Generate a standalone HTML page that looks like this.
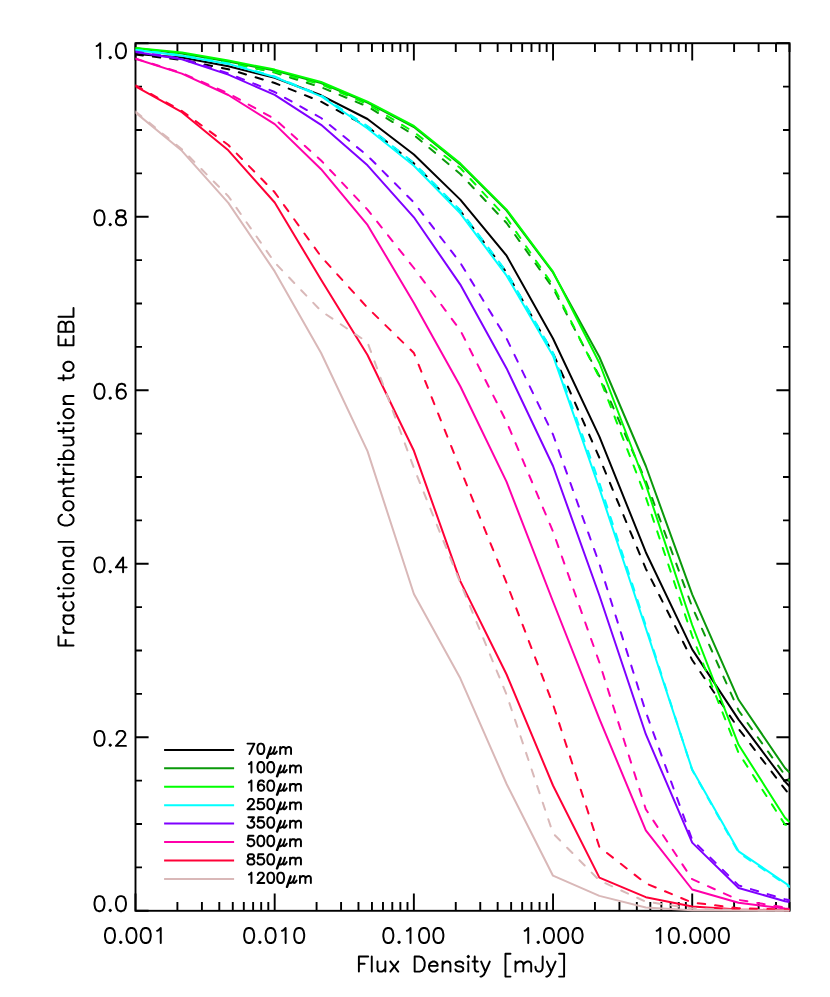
<!DOCTYPE html>
<html><head><meta charset="utf-8"><title>Fractional Contribution to EBL</title>
<style>html,body{margin:0;padding:0;background:#fff}svg{display:block}text{font-family:"Liberation Sans",sans-serif;fill:#000}</style></head><body>
<svg width="830" height="997" viewBox="0 0 830 997">
<rect width="830" height="997" fill="#fff"/>
<g fill="none" stroke="#000" stroke-width="1.90" stroke-linecap="butt">
<rect x="135.50" y="43.20" width="654.00" height="867.60"/>
<path d="M135.50,910.80v-17.40M135.50,43.20v17.40M177.40,910.80v-8.70M177.40,43.20v8.70M201.91,910.80v-8.70M201.91,43.20v8.70M219.29,910.80v-8.70M219.29,43.20v8.70M232.78,910.80v-8.70M232.78,43.20v8.70M243.80,910.80v-8.70M243.80,43.20v8.70M253.12,910.80v-8.70M253.12,43.20v8.70M261.19,910.80v-8.70M261.19,43.20v8.70M268.31,910.80v-8.70M268.31,43.20v8.70M274.68,910.80v-17.40M274.68,43.20v17.40M316.58,910.80v-8.70M316.58,43.20v8.70M341.08,910.80v-8.70M341.08,43.20v8.70M358.47,910.80v-8.70M358.47,43.20v8.70M371.96,910.80v-8.70M371.96,43.20v8.70M382.98,910.80v-8.70M382.98,43.20v8.70M392.30,910.80v-8.70M392.30,43.20v8.70M400.37,910.80v-8.70M400.37,43.20v8.70M407.49,910.80v-8.70M407.49,43.20v8.70M413.86,910.80v-17.40M413.86,43.20v17.40M455.76,910.80v-8.70M455.76,43.20v8.70M480.26,910.80v-8.70M480.26,43.20v8.70M497.65,910.80v-8.70M497.65,43.20v8.70M511.14,910.80v-8.70M511.14,43.20v8.70M522.16,910.80v-8.70M522.16,43.20v8.70M531.48,910.80v-8.70M531.48,43.20v8.70M539.55,910.80v-8.70M539.55,43.20v8.70M546.67,910.80v-8.70M546.67,43.20v8.70M553.04,910.80v-17.40M553.04,43.20v17.40M594.94,910.80v-8.70M594.94,43.20v8.70M619.44,910.80v-8.70M619.44,43.20v8.70M636.83,910.80v-8.70M636.83,43.20v8.70M650.32,910.80v-8.70M650.32,43.20v8.70M661.34,910.80v-8.70M661.34,43.20v8.70M670.66,910.80v-8.70M670.66,43.20v8.70M678.73,910.80v-8.70M678.73,43.20v8.70M685.85,910.80v-8.70M685.85,43.20v8.70M692.22,910.80v-17.40M692.22,43.20v17.40M734.11,910.80v-8.70M734.11,43.20v8.70M758.62,910.80v-8.70M758.62,43.20v8.70M776.01,910.80v-8.70M776.01,43.20v8.70M789.50,910.80v-8.70M789.50,43.20v8.70M135.50,910.80h13.10M789.50,910.80h-13.10M135.50,867.42h6.50M789.50,867.42h-6.50M135.50,824.04h6.50M789.50,824.04h-6.50M135.50,780.66h6.50M789.50,780.66h-6.50M135.50,737.28h13.10M789.50,737.28h-13.10M135.50,693.90h6.50M789.50,693.90h-6.50M135.50,650.52h6.50M789.50,650.52h-6.50M135.50,607.14h6.50M789.50,607.14h-6.50M135.50,563.76h13.10M789.50,563.76h-13.10M135.50,520.38h6.50M789.50,520.38h-6.50M135.50,477.00h6.50M789.50,477.00h-6.50M135.50,433.62h6.50M789.50,433.62h-6.50M135.50,390.24h13.10M789.50,390.24h-13.10M135.50,346.86h6.50M789.50,346.86h-6.50M135.50,303.48h6.50M789.50,303.48h-6.50M135.50,260.10h6.50M789.50,260.10h-6.50M135.50,216.72h13.10M789.50,216.72h-13.10M135.50,173.34h6.50M789.50,173.34h-6.50M135.50,129.96h6.50M789.50,129.96h-6.50M135.50,86.58h6.50M789.50,86.58h-6.50M135.50,43.20h13.10M789.50,43.20h-13.10"/>
</g>
<defs><clipPath id="pc"><rect x="135.50" y="0" width="654.30" height="997"/></clipPath></defs>
<g fill="none" stroke-width="2" stroke-linejoin="round" clip-path="url(#pc)">
<path stroke="#000" d="M784.2,780.6L790,779.3"/>
<polyline stroke="#000000" stroke-linecap="butt" points="135.5,54.0 181.9,57.5 228.3,66.3 274.7,77.8 321.1,95.3 367.5,119.0 413.9,154.5 460.3,199.6 506.6,255.7 553.0,338.5 599.4,436.6 645.8,552.2 692.2,649.4 738.6,719.6 785.0,781.6 789.5,786.2"/>
<polyline stroke="#000000" stroke-linecap="round" stroke-dasharray="7.5 10" points="135.5,54.5 181.9,60.0 228.3,69.2 274.7,83.0 321.1,101.7 367.5,126.6 413.9,163.4 460.3,210.8 506.6,272.5 553.0,353.2 599.4,457.8 645.8,568.6 692.2,660.0 738.6,728.8 785.0,789.2 789.5,795.0"/>
<polyline stroke="#0a990a" stroke-linecap="butt" points="135.5,48.2 181.9,53.5 228.3,61.5 274.7,70.6 321.1,83.0 367.5,102.7 413.9,127.0 460.3,164.4 506.6,210.6 553.0,272.5 599.4,357.0 645.8,466.0 692.2,594.3 738.6,699.8 785.0,768.0 789.5,772.5"/>
<polyline stroke="#0a990a" stroke-linecap="round" stroke-dasharray="7.5 10" points="135.5,48.5 181.9,53.5 228.3,62.3 274.7,72.6 321.1,87.2 367.5,106.5 413.9,135.0 460.3,174.0 506.6,223.0 553.0,288.0 599.4,376.3 645.8,481.0 692.2,607.0 738.6,710.5 785.0,775.3 789.5,780.5"/>
<polyline stroke="#00ff00" stroke-linecap="butt" points="135.5,48.0 181.9,52.5 228.3,60.5 274.7,69.6 321.1,82.0 367.5,101.7 413.9,126.0 460.3,163.4 506.6,209.6 553.0,271.7 599.4,363.0 645.8,484.5 692.2,625.0 738.6,744.8 785.0,817.7 789.5,821.9"/>
<polyline stroke="#00ff00" stroke-linecap="round" stroke-dasharray="7.5 10" points="135.5,48.3 181.9,54.9 228.3,62.9 274.7,72.0 321.1,84.4 367.5,104.1 413.9,132.0 460.3,168.0 506.6,218.0 553.0,285.5 599.4,377.5 645.8,497.2 692.2,636.0 738.6,753.0 785.0,824.6 789.5,826.0"/>
<polyline stroke="#00ffff" stroke-linecap="butt" points="135.5,49.9 181.9,55.7 228.3,63.9 274.7,77.0 321.1,96.3 367.5,128.5 413.9,165.8 460.3,213.3 506.6,275.7 553.0,355.7 599.4,488.5 645.8,628.2 692.2,769.6 738.6,851.3 785.0,882.8 789.5,886.0"/>
<polyline stroke="#00ffff" stroke-linecap="round" stroke-dasharray="7.5 10" points="135.5,49.9 181.9,55.4 228.3,63.5 274.7,76.5 321.1,95.5 367.5,126.2 413.9,163.0 460.3,210.3 506.6,272.0 553.0,352.7 599.4,483.0 645.8,625.7 692.2,770.1 738.6,852.6 785.0,884.0 789.5,887.0"/>
<polyline stroke="#7f00ff" stroke-linecap="butt" points="135.5,52.0 181.9,59.3 228.3,74.6 274.7,94.9 321.1,124.8 367.5,165.3 413.9,217.3 460.3,284.6 506.6,368.4 553.0,466.0 599.4,595.5 645.8,734.2 692.2,842.6 738.6,888.0 785.0,901.2 789.5,901.9"/>
<polyline stroke="#7f00ff" stroke-linecap="round" stroke-dasharray="7.5 10" points="135.5,51.5 181.9,58.6 228.3,73.3 274.7,92.0 321.1,118.0 367.5,155.7 413.9,202.5 460.3,262.8 506.6,338.6 553.0,434.5 599.4,563.9 645.8,712.0 692.2,839.8 738.6,885.4 785.0,899.3 789.5,900.2"/>
<polyline stroke="#ff00aa" stroke-linecap="butt" points="135.5,58.8 181.9,73.6 228.3,95.0 274.7,124.1 321.1,169.2 367.5,224.9 413.9,303.0 460.3,386.2 506.6,481.9 553.0,601.5 599.4,718.8 645.8,830.4 692.2,889.5 738.6,902.8 785.0,908.5 789.5,908.7"/>
<polyline stroke="#ff00aa" stroke-linecap="round" stroke-dasharray="7.5 10" points="135.5,58.6 181.9,73.1 228.3,93.3 274.7,119.0 321.1,160.5 367.5,209.6 413.9,268.0 460.3,330.3 506.6,422.0 553.0,531.5 599.4,662.5 645.8,809.2 692.2,879.2 738.6,899.9 785.0,907.5 789.5,907.7"/>
<polyline stroke="#ff0037" stroke-linecap="butt" points="135.5,86.3 181.9,112.2 228.3,150.3 274.7,202.5 321.1,279.8 367.5,355.0 413.9,450.8 460.3,581.1 506.6,674.5 553.0,785.5 599.4,877.6 645.8,897.2 692.2,906.5 738.6,909.4 785.0,910.3 789.5,910.4"/>
<polyline stroke="#ff0037" stroke-linecap="round" stroke-dasharray="7.5 10" points="135.5,85.5 181.9,111.0 228.3,145.0 274.7,192.3 321.1,256.6 367.5,307.7 413.9,353.0 460.3,469.0 506.6,583.0 553.0,704.3 599.4,847.0 645.8,883.4 692.2,902.5 738.6,908.2 785.0,909.6 789.5,909.7"/>
<polyline stroke="#d9b8b8" stroke-linecap="butt" points="135.5,112.6 181.9,150.8 228.3,202.9 274.7,271.4 321.1,353.0 367.5,451.1 413.9,594.0 460.3,678.3 506.6,784.0 553.0,875.7 599.4,895.9 645.8,907.5 692.2,910.2 738.6,910.6 785.0,910.8 789.5,910.8"/>
<polyline stroke="#d9b8b8" stroke-linecap="round" stroke-dasharray="7.5 10" points="135.5,111.6 181.9,149.3 228.3,196.2 274.7,262.5 321.1,311.0 367.5,342.4 413.9,468.0 460.3,582.7 506.6,694.7 553.0,833.3 599.4,880.5 645.8,901.7 692.2,908.4 738.6,910.0 785.0,910.5 789.5,910.5"/>
</g>
<g fill="none" stroke-width="2">
<path stroke="#000000" d="M164.1,749.90H234.1"/>
<path stroke="#0a990a" d="M164.1,768.33H234.1"/>
<path stroke="#00ff00" d="M164.1,786.76H234.1"/>
<path stroke="#00ffff" d="M164.1,805.19H234.1"/>
<path stroke="#7f00ff" d="M164.1,823.62H234.1"/>
<path stroke="#ff00aa" d="M164.1,842.05H234.1"/>
<path stroke="#ff0037" d="M164.1,860.48H234.1"/>
<path stroke="#d9b8b8" d="M164.1,878.91H234.1"/>
</g>
<path fill="none" stroke="#000" stroke-width="1.95" stroke-linecap="round" stroke-linejoin="round" d="M104.97,936.57L105.69,940.14L107.12,942.28L109.26,943L110.69,943L112.84,942.28L114.27,940.14L114.98,936.57L114.98,934.42L114.27,930.85L112.84,928.7L110.69,927.99L109.26,927.99L107.12,928.7L105.69,930.85L104.97,934.42L104.97,936.57M119.98,942.28L120.7,941.57L121.42,942.28L120.7,943L119.98,942.28M126.42,936.57L127.14,940.14L128.56,942.28L130.71,943L132.14,943L134.28,942.28L135.72,940.14L136.43,936.57L136.43,934.42L135.72,930.85L134.28,928.7L132.14,927.99L130.71,927.99L128.56,928.7L127.14,930.85L126.42,934.42L126.42,936.57M140.72,936.57L141.44,940.14L142.87,942.28L145.01,943L146.44,943L148.59,942.28L150.01,940.14L150.73,936.57L150.73,934.42L150.01,930.85L148.59,928.7L146.44,927.99L145.01,927.99L142.87,928.7L141.44,930.85L140.72,934.42L140.72,936.57M157.16,930.85L158.59,930.13L160.74,927.99L160.74,943M244.15,936.57L244.86,940.14L246.29,942.28L248.44,943L249.87,943L252.01,942.28L253.44,940.14L254.16,936.57L254.16,934.42L253.44,930.85L252.01,928.7L249.87,927.99L248.44,927.99L246.29,928.7L244.86,930.85L244.15,934.42L244.15,936.57M259.16,942.28L259.88,941.57L260.59,942.28L259.88,943L259.16,942.28M265.6,936.57L266.31,940.14L267.74,942.28L269.89,943L271.32,943L273.46,942.28L274.89,940.14L275.61,936.57L275.61,934.42L274.89,930.85L273.46,928.7L271.32,927.99L269.89,927.99L267.74,928.7L266.31,930.85L265.6,934.42L265.6,936.57M282.04,930.85L283.47,930.13L285.62,927.99L285.62,943M294.2,936.57L294.91,940.14L296.34,942.28L298.49,943L299.92,943L302.06,942.28L303.49,940.14L304.21,936.57L304.21,934.42L303.49,930.85L302.06,928.7L299.92,927.99L298.49,927.99L296.34,928.7L294.91,930.85L294.2,934.42L294.2,936.57M383.33,936.57L384.04,940.14L385.47,942.28L387.62,943L389.05,943L391.19,942.28L392.62,940.14L393.34,936.57L393.34,934.42L392.62,930.85L391.19,928.7L389.05,927.99L387.62,927.99L385.47,928.7L384.04,930.85L383.33,934.42L383.33,936.57M398.34,942.28L399.06,941.57L399.77,942.28L399.06,943L398.34,942.28M406.92,930.85L408.35,930.13L410.5,927.99L410.5,943M419.08,936.57L419.79,940.14L421.22,942.28L423.37,943L424.8,943L426.94,942.28L428.37,940.14L429.09,936.57L429.09,934.42L428.37,930.85L426.94,928.7L424.8,927.99L423.37,927.99L421.22,928.7L419.79,930.85L419.08,934.42L419.08,936.57M433.38,936.57L434.09,940.14L435.52,942.28L437.67,943L439.1,943L441.24,942.28L442.67,940.14L443.39,936.57L443.39,934.42L442.67,930.85L441.24,928.7L439.1,927.99L437.67,927.99L435.52,928.7L434.09,930.85L433.38,934.42L433.38,936.57M524.65,930.85L526.08,930.13L528.23,927.99L528.23,943M537.52,942.28L538.24,941.57L538.95,942.28L538.24,943L537.52,942.28M543.96,936.57L544.67,940.14L546.1,942.28L548.25,943L549.68,943L551.82,942.28L553.25,940.14L553.97,936.57L553.97,934.42L553.25,930.85L551.82,928.7L549.68,927.99L548.25,927.99L546.1,928.7L544.67,930.85L543.96,934.42L543.96,936.57M558.26,936.57L558.97,940.14L560.4,942.28L562.55,943L563.98,943L566.12,942.28L567.55,940.14L568.27,936.57L568.27,934.42L567.55,930.85L566.12,928.7L563.98,927.99L562.55,927.99L560.4,928.7L558.97,930.85L558.26,934.42L558.26,936.57M572.56,936.57L573.27,940.14L574.7,942.28L576.85,943L578.28,943L580.42,942.28L581.85,940.14L582.57,936.57L582.57,934.42L581.85,930.85L580.42,928.7L578.28,927.99L576.85,927.99L574.7,928.7L573.27,930.85L572.56,934.42L572.56,936.57M656.68,930.85L658.11,930.13L660.26,927.99L660.26,943M668.84,936.57L669.55,940.14L670.98,942.28L673.13,943L674.56,943L676.7,942.28L678.13,940.14L678.85,936.57L678.85,934.42L678.13,930.85L676.7,928.7L674.56,927.99L673.13,927.99L670.98,928.7L669.55,930.85L668.84,934.42L668.84,936.57M683.85,942.28L684.57,941.57L685.28,942.28L684.57,943L683.85,942.28M690.29,936.57L691,940.14L692.43,942.28L694.58,943L696.01,943L698.15,942.28L699.58,940.14L700.3,936.57L700.3,934.42L699.58,930.85L698.15,928.7L696.01,927.99L694.58,927.99L692.43,928.7L691,930.85L690.29,934.42L690.29,936.57M704.59,936.57L705.3,940.14L706.73,942.28L708.88,943L710.31,943L712.45,942.28L713.88,940.14L714.6,936.57L714.6,934.42L713.88,930.85L712.45,928.7L710.31,927.99L708.88,927.99L706.73,928.7L705.3,930.85L704.59,934.42L704.59,936.57M718.89,936.57L719.6,940.14L721.03,942.28L723.18,943L724.61,943L726.75,942.28L728.18,940.14L728.9,936.57L728.9,934.42L728.18,930.85L726.75,928.7L724.61,927.99L723.18,927.99L721.03,928.7L719.6,930.85L718.89,934.42L718.89,936.57M94.49,904.72L95.21,908.29L96.64,910.43L98.78,911.15L100.21,911.15L102.36,910.43L103.79,908.29L104.5,904.72L104.5,902.57L103.79,899L102.36,896.85L100.21,896.13L98.78,896.13L96.64,896.85L95.21,899L94.49,902.57L94.49,904.72M109.51,910.43L110.22,909.72L110.94,910.43L110.22,911.15L109.51,910.43M115.94,904.72L116.66,908.29L118.09,910.43L120.23,911.15L121.66,911.15L123.81,910.43L125.24,908.29L125.95,904.72L125.95,902.57L125.24,899L123.81,896.85L121.66,896.13L120.23,896.13L118.09,896.85L116.66,899L115.94,902.57L115.94,904.72M94.49,739.45L95.21,743.02L96.64,745.16L98.78,745.88L100.21,745.88L102.36,745.16L103.79,743.02L104.5,739.45L104.5,737.3L103.79,733.73L102.36,731.58L100.21,730.87L98.78,730.87L96.64,731.58L95.21,733.73L94.49,737.3L94.49,739.45M109.51,745.16L110.22,744.45L110.94,745.16L110.22,745.88L109.51,745.16M116.66,734.44L116.66,733.73L117.38,732.29L118.09,731.58L119.52,730.87L122.38,730.87L123.81,731.58L124.52,732.29L125.24,733.73L125.24,735.15L124.52,736.59L123.09,738.73L115.94,745.88L125.95,745.88M94.49,565.93L95.21,569.5L96.64,571.64L98.78,572.36L100.21,572.36L102.36,571.64L103.79,569.5L104.5,565.93L104.5,563.78L103.79,560.21L102.36,558.06L100.21,557.35L98.78,557.35L96.64,558.06L95.21,560.21L94.49,563.78L94.49,565.93M109.51,571.64L110.22,570.93L110.94,571.64L110.22,572.36L109.51,571.64M123.09,572.36L123.09,557.35L115.94,567.36L126.67,567.36M94.49,392.41L95.21,395.98L96.64,398.13L98.78,398.84L100.21,398.84L102.36,398.13L103.79,395.98L104.5,392.41L104.5,390.26L103.79,386.69L102.36,384.54L100.21,383.83L98.78,383.83L96.64,384.54L95.21,386.69L94.49,390.26L94.49,392.41M109.51,398.13L110.22,397.41L110.94,398.13L110.22,398.84L109.51,398.13M116.66,393.84L116.66,390.26L117.38,386.69L118.8,384.54L120.95,383.83L122.38,383.83L124.52,384.54L125.24,385.97M116.66,393.84L117.38,396.7L118.8,398.13L120.95,398.84L121.66,398.84L123.81,398.13L125.24,396.7L125.95,394.55L125.95,393.84L125.24,391.69L123.81,390.26L121.66,389.55L120.95,389.55L118.8,390.26L117.38,391.69L116.66,393.84M94.49,218.89L95.21,222.46L96.64,224.61L98.78,225.32L100.21,225.32L102.36,224.61L103.79,222.46L104.5,218.89L104.5,216.74L103.79,213.17L102.36,211.02L100.21,210.31L98.78,210.31L96.64,211.02L95.21,213.17L94.49,216.74L94.49,218.89M109.51,224.61L110.22,223.89L110.94,224.61L110.22,225.32L109.51,224.61M115.94,222.46L115.94,220.32L116.66,218.89L118.09,217.46L120.23,216.74L123.09,216.03L124.52,215.31L125.24,213.88L125.24,212.45L124.52,211.02L122.38,210.31L119.52,210.31L117.38,211.02L116.66,212.45L116.66,213.88L117.38,215.31L118.8,216.03L121.66,216.74L123.81,217.46L125.24,218.89L125.95,220.32L125.95,222.46L125.24,223.89L124.52,224.61L122.38,225.32L119.52,225.32L117.38,224.61L116.66,223.89L115.94,222.46M96.64,46.09L98.07,45.38L100.21,43.23L100.21,58.25M109.51,57.53L110.22,56.82L110.94,57.53L110.22,58.25L109.51,57.53M115.94,51.81L116.66,55.39L118.09,57.53L120.23,58.25L121.66,58.25L123.81,57.53L125.24,55.39L125.95,51.81L125.95,49.67L125.24,46.09L123.81,43.95L121.66,43.23L120.23,43.23L118.09,43.95L116.66,46.09L115.94,49.67L115.94,51.81M358.9,971.6L358.9,956.59L368.19,956.59M358.9,963.74L364.62,963.74M371.77,971.6L371.77,956.59M377.49,961.59L377.49,968.74L378.2,970.88L379.63,971.6L381.78,971.6L383.21,970.88L385.35,968.74M385.35,971.6L385.35,961.59M390.36,971.6L398.22,961.59M390.36,961.59L398.22,971.6M414.67,971.6L414.67,956.59L419.67,956.59L421.82,957.3L423.25,958.73L423.96,960.16L424.68,962.31L424.68,965.88L423.96,968.02L423.25,969.46L421.82,970.88L419.67,971.6L414.67,971.6M428.97,965.88L437.55,965.88L437.55,964.45L436.83,963.02L436.12,962.31L434.69,961.59L432.54,961.59L431.11,962.31L429.68,963.74L428.97,965.88L428.97,967.31L429.68,969.46L431.11,970.88L432.54,971.6L434.69,971.6L436.12,970.88L437.55,969.46M442.55,971.6L442.55,961.59M442.55,964.45L444.7,962.31L446.13,961.59L448.27,961.59L449.7,962.31L450.42,964.45L450.42,971.6M455.42,969.46L456.14,970.88L458.28,971.6L460.43,971.6L462.57,970.88L463.29,969.46L463.29,968.74L462.57,967.31L461.14,966.6L457.57,965.88L456.14,965.17L455.42,963.74L456.14,962.31L458.28,961.59L460.43,961.59L462.57,962.31L463.29,963.74M468.29,971.6L468.29,961.59M467.58,956.59L468.29,955.87L469.01,956.59L468.29,957.3L467.58,956.59M472.58,961.59L477.59,961.59M474.73,956.59L474.73,968.74L475.44,970.88L476.87,971.6L478.3,971.6M481.16,961.59L485.45,971.6M489.74,961.59L485.45,971.6L484.02,974.46L482.59,975.89L481.16,976.61L480.45,976.61M510.48,976.61L505.47,976.61L505.47,953.73L510.48,953.73M515.48,971.6L515.48,961.59M515.48,964.45L517.63,962.31L519.06,961.59L521.2,961.59L522.63,962.31L523.35,964.45L523.35,971.6M523.35,964.45L525.49,962.31L526.92,961.59L529.07,961.59L530.5,962.31L531.21,964.45L531.21,971.6M535.5,966.6L535.5,968.02L536.22,970.17L536.93,970.88L538.36,971.6L539.79,971.6L541.22,970.88L541.94,970.17L542.65,968.02L542.65,956.59M546.94,961.59L551.23,971.6M555.52,961.59L551.23,971.6L549.8,974.46L548.37,975.89L546.94,976.61L546.23,976.61M559.1,976.61L564.1,976.61L564.1,953.73L559.1,953.73M73.5,645.57L58.48,645.57L58.48,636.27M65.64,645.57L65.64,639.85M73.5,632.7L63.49,632.7M67.78,632.7L65.64,631.98L64.2,630.55L63.49,629.12L63.49,626.98M73.5,615.54L63.49,615.54M71.36,615.54L72.78,616.97L73.5,618.4L73.5,620.54L72.78,621.97L71.36,623.4L69.21,624.12L67.78,624.12L65.64,623.4L64.2,621.97L63.49,620.54L63.49,618.4L64.2,616.97L65.64,615.54M71.36,601.95L72.78,603.38L73.5,604.81L73.5,606.96L72.78,608.39L71.36,609.82L69.21,610.53L67.78,610.53L65.64,609.82L64.2,608.39L63.49,606.96L63.49,604.81L64.2,603.38L65.64,601.95M63.49,598.38L63.49,593.37M58.48,596.23L70.64,596.23L72.78,595.52L73.5,594.09L73.5,592.66M73.5,588.37L63.49,588.37M58.48,589.08L57.77,588.37L58.48,587.65L59.2,588.37L58.48,589.08M69.21,583.36L71.36,582.65L72.78,581.22L73.5,579.79L73.5,577.64L72.78,576.21L71.36,574.78L69.21,574.07L67.78,574.07L65.64,574.78L64.2,576.21L63.49,577.64L63.49,579.79L64.2,581.22L65.64,582.65L67.78,583.36L69.21,583.36M73.5,569.06L63.49,569.06M66.35,569.06L64.2,566.92L63.49,565.49L63.49,563.34L64.2,561.91L66.35,561.2L73.5,561.2M73.5,547.61L63.49,547.61M71.36,547.61L72.78,549.04L73.5,550.47L73.5,552.62L72.78,554.05L71.36,555.48L69.21,556.19L67.78,556.19L65.64,555.48L64.2,554.05L63.49,552.62L63.49,550.47L64.2,549.04L65.64,547.61M73.5,541.89L58.48,541.89M69.92,514.72L71.36,515.44L72.78,516.87L73.5,518.3L73.5,521.16L72.78,522.59L71.36,524.02L69.92,524.73L67.78,525.45L64.2,525.45L62.06,524.73L60.63,524.02L59.2,522.59L58.48,521.16L58.48,518.3L59.2,516.87L60.63,515.44L62.06,514.72M69.21,510.43L71.36,509.72L72.78,508.29L73.5,506.86L73.5,504.71L72.78,503.28L71.36,501.85L69.21,501.14L67.78,501.14L65.64,501.85L64.2,503.28L63.49,504.71L63.49,506.86L64.2,508.29L65.64,509.72L67.78,510.43L69.21,510.43M73.5,496.13L63.49,496.13M66.35,496.13L64.2,493.99L63.49,492.56L63.49,490.41L64.2,488.98L66.35,488.27L73.5,488.27M63.49,483.98L63.49,478.97M58.48,481.83L70.64,481.83L72.78,481.12L73.5,479.69L73.5,478.26M73.5,473.97L63.49,473.97M67.78,473.97L65.64,473.25L64.2,471.82L63.49,470.39L63.49,468.25M73.5,464.67L63.49,464.67M58.48,465.39L57.77,464.67L58.48,463.96L59.2,464.67L58.48,465.39M73.5,458.95L58.48,458.95M71.36,458.95L72.78,457.52L73.5,456.09L73.5,453.95L72.78,452.52L71.36,451.09L69.21,450.37L67.78,450.37L65.64,451.09L64.2,452.52L63.49,453.95L63.49,456.09L64.2,457.52L65.64,458.95M63.49,445.37L70.64,445.37L72.78,444.65L73.5,443.22L73.5,441.08L72.78,439.65L70.64,437.5M73.5,437.5L63.49,437.5M63.49,433.21L63.49,428.21M58.48,431.07L70.64,431.07L72.78,430.35L73.5,428.92L73.5,427.49M73.5,423.2L63.49,423.2M58.48,423.92L57.77,423.2L58.48,422.49L59.2,423.2L58.48,423.92M69.21,418.2L71.36,417.48L72.78,416.05L73.5,414.62L73.5,412.48L72.78,411.05L71.36,409.62L69.21,408.9L67.78,408.9L65.64,409.62L64.2,411.05L63.49,412.48L63.49,414.62L64.2,416.05L65.64,417.48L67.78,418.2L69.21,418.2M73.5,403.9L63.49,403.9M66.35,403.9L64.2,401.75L63.49,400.32L63.49,398.18L64.2,396.75L66.35,396.03L73.5,396.03M63.49,380.3L63.49,375.3M58.48,378.16L70.64,378.16L72.78,377.44L73.5,376.01L73.5,374.58M69.21,371.01L71.36,370.29L72.78,368.86L73.5,367.43L73.5,365.29L72.78,363.86L71.36,362.43L69.21,361.71L67.78,361.71L65.64,362.43L64.2,363.86L63.49,365.29L63.49,367.43L64.2,368.86L65.64,370.29L67.78,371.01L69.21,371.01M65.64,345.27L65.64,339.55M73.5,335.97L73.5,345.27L58.48,345.27L58.48,335.97M65.64,331.68L65.64,325.25L64.92,323.1L64.2,322.39L62.77,321.67L61.34,321.67L59.91,322.39L59.2,323.1L58.48,325.25L58.48,331.68L73.5,331.68L73.5,325.25L72.78,323.1L72.07,322.39L70.64,321.67L68.5,321.67L67.06,322.39L66.35,323.1L65.64,325.25M58.48,316.67L73.5,316.67L73.5,308.09"/>
<path fill="none" stroke="#000" stroke-width="1.95" stroke-linecap="round" stroke-linejoin="round" d="M247.49,743.61L254.41,743.61L249.47,754M257.38,749.54L257.88,752.02L258.87,753.5L260.36,754L261.35,754L262.83,753.5L263.82,752.02L264.31,749.54L264.31,748.06L263.82,745.59L262.83,744.1L261.35,743.61L260.36,743.61L258.87,744.1L257.88,745.59L257.38,748.06L257.38,749.54M267.43,757.96L271.05,747.81M266.89,757.96L270.75,747.07M270.75,747.07L269.17,751.52L268.97,752.76L269.26,753.6L269.96,754L270.85,754L271.94,753.5L272.98,752.51L273.82,751.03M275.06,747.07L273.82,751.03L273.47,752.51L273.47,753.41L273.92,753.9L274.56,754L275.3,753.6L276.05,752.76L276.79,751.52M280.15,754L280.15,747.07M280.15,749.05L281.64,747.57L282.63,747.07L284.12,747.07L285.11,747.57L285.6,749.05L285.6,754M285.6,749.05L287.08,747.57L288.07,747.07L289.56,747.07L290.55,747.57L291.05,749.05L291.05,754M248.97,764.01L249.96,763.52L251.44,762.03L251.44,772.43M257.38,767.97L257.88,770.45L258.87,771.93L260.36,772.43L261.35,772.43L262.83,771.93L263.82,770.45L264.31,767.97L264.31,766.49L263.82,764.01L262.83,762.53L261.35,762.03L260.36,762.03L258.87,762.53L257.88,764.01L257.38,766.49L257.38,767.97M267.29,767.97L267.78,770.45L268.77,771.93L270.25,772.43L271.25,772.43L272.73,771.93L273.72,770.45L274.21,767.97L274.21,766.49L273.72,764.01L272.73,762.53L271.25,762.03L270.25,762.03L268.77,762.53L267.78,764.01L267.29,766.49L267.29,767.97M277.33,776.39L280.95,766.24M276.79,776.39L280.65,765.5M280.65,765.5L279.07,769.95L278.87,771.19L279.17,772.03L279.86,772.43L280.75,772.43L281.84,771.93L282.88,770.94L283.72,769.46M284.96,765.5L283.72,769.46L283.37,770.94L283.37,771.84L283.82,772.33L284.46,772.43L285.2,772.03L285.95,771.19L286.69,769.95M290.06,772.43L290.06,765.5M290.06,767.48L291.54,766L292.53,765.5L294.01,765.5L295,766L295.5,767.48L295.5,772.43M295.5,767.48L296.99,766L297.98,765.5L299.46,765.5L300.45,766L300.94,767.48L300.94,772.43M248.97,782.45L249.96,781.95L251.44,780.47L251.44,790.86M257.88,787.39L257.88,784.92L258.38,782.45L259.37,780.96L260.85,780.47L261.84,780.47L263.32,780.96L263.82,781.95M257.88,787.39L258.38,789.38L259.37,790.37L260.85,790.86L261.35,790.86L262.83,790.37L263.82,789.38L264.31,787.89L264.31,787.39L263.82,785.91L262.83,784.92L261.35,784.43L260.85,784.43L259.37,784.92L258.38,785.91L257.88,787.39M267.29,786.4L267.78,788.88L268.77,790.37L270.25,790.86L271.25,790.86L272.73,790.37L273.72,788.88L274.21,786.4L274.21,784.92L273.72,782.45L272.73,780.96L271.25,780.47L270.25,780.47L268.77,780.96L267.78,782.45L267.29,784.92L267.29,786.4M277.33,794.82L280.95,784.67M276.79,794.82L280.65,783.93M280.65,783.93L279.07,788.38L278.87,789.62L279.17,790.46L279.86,790.86L280.75,790.86L281.84,790.37L282.88,789.38L283.72,787.89M284.96,783.93L283.72,787.89L283.37,789.38L283.37,790.27L283.82,790.76L284.46,790.86L285.2,790.46L285.95,789.62L286.69,788.38M290.06,790.86L290.06,783.93M290.06,785.91L291.54,784.43L292.53,783.93L294.01,783.93L295,784.43L295.5,785.91L295.5,790.86M295.5,785.91L296.99,784.43L297.98,783.93L299.46,783.93L300.45,784.43L300.94,785.91L300.94,790.86M247.98,801.37L247.98,800.88L248.47,799.88L248.97,799.39L249.96,798.89L251.94,798.89L252.93,799.39L253.43,799.88L253.92,800.88L253.92,801.87L253.43,802.86L252.44,804.34L247.49,809.29L254.41,809.29M257.38,807.31L257.88,808.3L258.38,808.79L259.86,809.29L261.35,809.29L262.83,808.79L263.82,807.8L264.31,806.32L264.31,805.33L263.82,803.84L262.83,802.86L261.35,802.36L259.86,802.36L258.38,802.86L257.88,803.35L258.38,798.89L263.32,798.89M267.29,804.83L267.78,807.31L268.77,808.79L270.25,809.29L271.25,809.29L272.73,808.79L273.72,807.31L274.21,804.83L274.21,803.35L273.72,800.88L272.73,799.39L271.25,798.89L270.25,798.89L268.77,799.39L267.78,800.88L267.29,803.35L267.29,804.83M277.33,813.25L280.95,803.1M276.79,813.25L280.65,802.36M280.65,802.36L279.07,806.81L278.87,808.05L279.17,808.89L279.86,809.29L280.75,809.29L281.84,808.79L282.88,807.8L283.72,806.32M284.96,802.36L283.72,806.32L283.37,807.8L283.37,808.7L283.82,809.19L284.46,809.29L285.2,808.89L285.95,808.05L286.69,806.81M290.06,809.29L290.06,802.36M290.06,804.34L291.54,802.86L292.53,802.36L294.01,802.36L295,802.86L295.5,804.34L295.5,809.29M295.5,804.34L296.99,802.86L297.98,802.36L299.46,802.36L300.45,802.86L300.94,804.34L300.94,809.29M247.49,825.74L247.98,826.73L248.47,827.23L249.96,827.72L251.44,827.72L252.93,827.23L253.92,826.24L254.41,824.75L254.41,823.76L253.92,822.27L253.43,821.78L252.44,821.29L250.95,821.29L253.92,817.33L248.47,817.33M257.38,825.74L257.88,826.73L258.38,827.23L259.86,827.72L261.35,827.72L262.83,827.23L263.82,826.24L264.31,824.75L264.31,823.76L263.82,822.27L262.83,821.29L261.35,820.79L259.86,820.79L258.38,821.29L257.88,821.78L258.38,817.33L263.32,817.33M267.29,823.26L267.78,825.74L268.77,827.23L270.25,827.72L271.25,827.72L272.73,827.23L273.72,825.74L274.21,823.26L274.21,821.78L273.72,819.31L272.73,817.82L271.25,817.33L270.25,817.33L268.77,817.82L267.78,819.31L267.29,821.78L267.29,823.26M277.33,831.68L280.95,821.53M276.79,831.68L280.65,820.79M280.65,820.79L279.07,825.25L278.87,826.48L279.17,827.32L279.86,827.72L280.75,827.72L281.84,827.23L282.88,826.24L283.72,824.75M284.96,820.79L283.72,824.75L283.37,826.24L283.37,827.13L283.82,827.62L284.46,827.72L285.2,827.32L285.95,826.48L286.69,825.25M290.06,827.72L290.06,820.79M290.06,822.77L291.54,821.29L292.53,820.79L294.01,820.79L295,821.29L295.5,822.77L295.5,827.72M295.5,822.77L296.99,821.29L297.98,820.79L299.46,820.79L300.45,821.29L300.94,822.77L300.94,827.72M247.49,844.17L247.98,845.16L248.47,845.65L249.96,846.15L251.44,846.15L252.93,845.65L253.92,844.66L254.41,843.18L254.41,842.19L253.92,840.7L252.93,839.72L251.44,839.22L249.96,839.22L248.47,839.72L247.98,840.21L248.47,835.75L253.43,835.75M257.38,841.69L257.88,844.17L258.87,845.65L260.36,846.15L261.35,846.15L262.83,845.65L263.82,844.17L264.31,841.69L264.31,840.21L263.82,837.74L262.83,836.25L261.35,835.75L260.36,835.75L258.87,836.25L257.88,837.74L257.38,840.21L257.38,841.69M267.29,841.69L267.78,844.17L268.77,845.65L270.25,846.15L271.25,846.15L272.73,845.65L273.72,844.17L274.21,841.69L274.21,840.21L273.72,837.74L272.73,836.25L271.25,835.75L270.25,835.75L268.77,836.25L267.78,837.74L267.29,840.21L267.29,841.69M277.33,850.11L280.95,839.96M276.79,850.11L280.65,839.22M280.65,839.22L279.07,843.67L278.87,844.91L279.17,845.75L279.86,846.15L280.75,846.15L281.84,845.65L282.88,844.66L283.72,843.18M284.96,839.22L283.72,843.18L283.37,844.66L283.37,845.56L283.82,846.05L284.46,846.15L285.2,845.75L285.95,844.91L286.69,843.67M290.06,846.15L290.06,839.22M290.06,841.2L291.54,839.72L292.53,839.22L294.01,839.22L295,839.72L295.5,841.2L295.5,846.15M295.5,841.2L296.99,839.72L297.98,839.22L299.46,839.22L300.45,839.72L300.94,841.2L300.94,846.15M247.49,862.6L247.49,861.12L247.98,860.12L248.97,859.13L250.46,858.64L252.44,858.15L253.43,857.65L253.92,856.66L253.92,855.67L253.43,854.68L251.94,854.19L249.96,854.19L248.47,854.68L247.98,855.67L247.98,856.66L248.47,857.65L249.47,858.15L251.44,858.64L252.93,859.13L253.92,860.12L254.41,861.12L254.41,862.6L253.92,863.59L253.43,864.09L251.94,864.58L249.96,864.58L248.47,864.09L247.98,863.59L247.49,862.6M257.38,862.6L257.88,863.59L258.38,864.09L259.86,864.58L261.35,864.58L262.83,864.09L263.82,863.1L264.31,861.61L264.31,860.62L263.82,859.13L262.83,858.15L261.35,857.65L259.86,857.65L258.38,858.15L257.88,858.64L258.38,854.19L263.32,854.19M267.29,860.12L267.78,862.6L268.77,864.09L270.25,864.58L271.25,864.58L272.73,864.09L273.72,862.6L274.21,860.12L274.21,858.64L273.72,856.17L272.73,854.68L271.25,854.19L270.25,854.19L268.77,854.68L267.78,856.17L267.29,858.64L267.29,860.12M277.33,868.54L280.95,858.39M276.79,868.54L280.65,857.65M280.65,857.65L279.07,862.11L278.87,863.34L279.17,864.18L279.86,864.58L280.75,864.58L281.84,864.09L282.88,863.1L283.72,861.61M284.96,857.65L283.72,861.61L283.37,863.1L283.37,863.99L283.82,864.48L284.46,864.58L285.2,864.18L285.95,863.34L286.69,862.11M290.06,864.58L290.06,857.65M290.06,859.63L291.54,858.15L292.53,857.65L294.01,857.65L295,858.15L295.5,859.63L295.5,864.58M295.5,859.63L296.99,858.15L297.98,857.65L299.46,857.65L300.45,858.15L300.94,859.63L300.94,864.58M248.97,874.6L249.96,874.1L251.44,872.62L251.44,883.01M257.88,875.09L257.88,874.6L258.38,873.61L258.87,873.11L259.86,872.62L261.84,872.62L262.83,873.11L263.32,873.61L263.82,874.6L263.82,875.59L263.32,876.58L262.33,878.06L257.38,883.01L264.31,883.01M267.29,878.55L267.78,881.03L268.77,882.51L270.25,883.01L271.25,883.01L272.73,882.51L273.72,881.03L274.21,878.55L274.21,877.07L273.72,874.6L272.73,873.11L271.25,872.62L270.25,872.62L268.77,873.11L267.78,874.6L267.29,877.07L267.29,878.55M277.19,878.55L277.68,881.03L278.67,882.51L280.15,883.01L281.14,883.01L282.63,882.51L283.62,881.03L284.12,878.55L284.12,877.07L283.62,874.6L282.63,873.11L281.14,872.62L280.15,872.62L278.67,873.11L277.68,874.6L277.19,877.07L277.19,878.55M287.23,886.97L290.85,876.82M286.69,886.97L290.55,876.08M290.55,876.08L288.97,880.53L288.77,881.77L289.06,882.61L289.76,883.01L290.65,883.01L291.74,882.51L292.78,881.52L293.62,880.04M294.86,876.08L293.62,880.04L293.27,881.52L293.27,882.42L293.72,882.91L294.36,883.01L295.1,882.61L295.85,881.77L296.59,880.53M299.95,883.01L299.95,876.08M299.95,878.06L301.44,876.58L302.43,876.08L303.92,876.08L304.9,876.58L305.4,878.06L305.4,883.01M305.4,878.06L306.88,876.58L307.88,876.08L309.36,876.08L310.35,876.58L310.85,878.06L310.85,883.01"/>
</svg></body></html>
